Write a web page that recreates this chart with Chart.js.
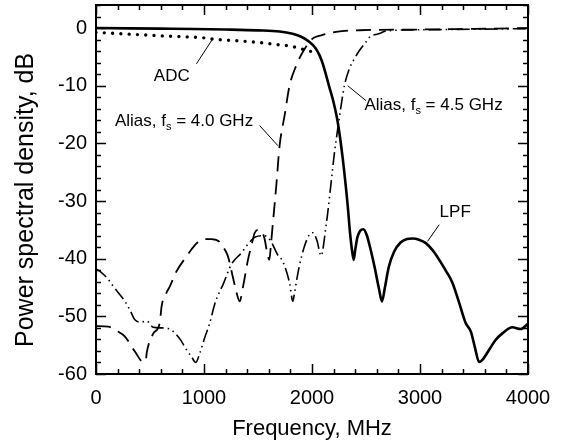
<!DOCTYPE html>
<html>
<head>
<meta charset="utf-8">
<script src="https://cdn.jsdelivr.net/npm/chart.js@4.4.0/dist/chart.umd.min.js"></script>
<style>
  html, body { margin: 0; padding: 0; background: #fff; }
  canvas { display: block; }
</style>
</head>
<body>
<canvas id="psdChart" width="563" height="442" style="width:563px;height:442px"></canvas>
<script>
// frequency in MHz, level in dB
const lpfFreq = [0, 300, 600, 900, 1200, 1500, 1700, 1820, 1900, 1977, 2030, 2069, 2100, 2131, 2160, 2192, 2238, 2285, 2331, 2352, 2370, 2386, 2400, 2420, 2445, 2476, 2505, 2540, 2580, 2620, 2648, 2675, 2710, 2760, 2820, 2880, 2931, 2990, 3054, 3120, 3178, 3240, 3301, 3360, 3424, 3470, 3510, 3547, 3580, 3640, 3700, 3760, 3855, 3932, 4000];
const lpfDb = [0, -0.05, -0.1, -0.15, -0.25, -0.4, -0.6, -1.0, -1.5, -2.4, -3.4, -4.7, -6.2, -8.2, -10.2, -12.3, -16.3, -22.7, -30.9, -35.5, -38.5, -40.2, -38.5, -36.3, -35.2, -34.9, -35.8, -38.2, -41.5, -45.2, -47.4, -45, -41.5, -38.8, -37.2, -36.6, -36.5, -36.7, -37.3, -38.6, -40.2, -42.1, -44.2, -47.5, -51.2, -52.6, -55.5, -57.9, -57.5, -55.8, -54.1, -53.0, -51.9, -52.2, -51.3];

const adcFreq = [0, 200, 400, 600, 800, 1000, 1100, 1300, 1515, 1669, 1792, 1900, 2008];
const adcDb = [-0.75, -0.95, -1.15, -1.35, -1.5, -1.7, -1.95, -2.2, -2.5, -2.85, -3.1, -3.6, -4.15];

const alias40Freq = [0, 114, 200, 268, 360, 437, 460, 470, 530, 591, 607, 650, 684, 745, 838, 884, 940, 1007, 1070, 1145, 1192, 1222, 1265, 1300, 1330, 1360, 1407, 1438, 1470, 1500, 1530, 1560, 1590, 1605, 1620, 1638, 1669, 1700, 1746, 1792, 1854, 1915, 2008, 2085, 2223, 2439, 3000, 3500, 4000];
const alias40Db = [-51.7, -51.8, -52.6, -53.5, -56.1, -57.9, -57.8, -56.3, -53, -51.1, -48.3, -46, -44.8, -42.2, -39.6, -38.4, -37.2, -36.6, -36.6, -37.1, -38.4, -39.6, -43.0, -45.8, -47.4, -45, -40.2, -37.8, -35.5, -35, -35.2, -36.5, -39.5, -40.2, -37.5, -33.8, -27.4, -20.4, -15.2, -10.0, -6.5, -4.15, -1.8, -1.25, -0.66, -0.38, -0.25, -0.15, 0];

const alias45Freq = [0, 37, 114, 160, 268, 314, 360, 420, 470, 530, 600, 668, 714, 780, 838, 884, 924, 961, 1010, 1053, 1099, 1145, 1176, 1253, 1346, 1407, 1480, 1560, 1620, 1681, 1730, 1792, 1823, 1838, 1880, 1931, 1977, 2010, 2045, 2085, 2100, 2125, 2146, 2177, 2208, 2238, 2270, 2300, 2346, 2393, 2439, 2500, 2531, 2624, 2685, 3000, 3500, 4000];
const alias45Db = [-41.8, -42.2, -43.6, -44.8, -47.4, -48.9, -50.6, -51.0, -50.8, -51.9, -52, -52.1, -52.6, -54, -55.8, -57.0, -58.0, -56.4, -53.5, -51.2, -47.9, -45.7, -44.5, -41.0, -39.0, -37.5, -36.2, -36.0, -37.0, -39.3, -40.5, -44.2, -47.4, -45.9, -41.5, -37.8, -35.8, -35.5, -36.8, -39.5, -38.5, -35, -32, -26.8, -21.6, -17.5, -13.4, -10.0, -7.05, -5.3, -3.9, -2.4, -1.6, -0.96, -0.5, -0.3, -0.2, -0.1];

const xTickValues = [0, 1000, 2000, 3000, 4000];
const yTickValues = [-60, -50, -40, -30, -20, -10, 0];

const FONT = "'Liberation Sans', Arial, sans-serif";

function toPoints(xs, ys) {
  return xs.map((x, i) => ({ x: x, y: ys[i] }));
}

// callouts: text anchor and leader line, in data units
const notes = [
  { text: 'ADC', x: 702, y: -8.3, align: 'center', line: [930, -6.2, 1083, -1.8] },
  { text: 'Alias, f', sub: 's', rest: ' = 4.0 GHz', x: 175, y: -16.1, align: 'left', line: [1515, -16.9, 1684, -20.4] },
  { text: 'Alias, f', sub: 's', rest: ' = 4.5 GHz', x: 2485, y: -13.4, align: 'left', line: [2331, -10.0, 2500, -12.6] },
  { text: 'LPF', x: 3326, y: -32, align: 'center', line: [3178, -34.1, 3070, -37.0] }
];

const framePlugin = {
  id: 'frame',
  afterDatasetsDraw(chart) {
    const { ctx, chartArea: a, scales: { x, y } } = chart;
    ctx.save();
    ctx.strokeStyle = '#000';
    ctx.lineWidth = 1.5;
    ctx.beginPath();
    for (let v = 0; v <= 4000; v += 200) {
      const px = Math.round(x.getPixelForValue(v)) + 0.5;
      const len = v % 1000 === 0 ? 10 : 5;
      ctx.moveTo(px, a.bottom); ctx.lineTo(px, a.bottom - len);
      ctx.moveTo(px, a.top); ctx.lineTo(px, a.top + len);
    }
    for (let v = -60; v <= 4; v += 2) {
      const py = Math.round(y.getPixelForValue(v)) + 0.5;
      const len = v % 10 === 0 ? 10 : 5;
      ctx.moveTo(a.left, py); ctx.lineTo(a.left + len, py);
      ctx.moveTo(a.right, py); ctx.lineTo(a.right - len, py);
    }
    ctx.stroke();
    ctx.lineWidth = 2;
    ctx.strokeRect(a.left, a.top, a.right - a.left, a.bottom - a.top);
    ctx.restore();
  }
};

const notePlugin = {
  id: 'notes',
  afterDraw(chart) {
    const { ctx, scales: { x, y } } = chart;
    ctx.save();
    ctx.fillStyle = '#000';
    ctx.strokeStyle = '#000';
    ctx.lineWidth = 1;
    ctx.textBaseline = 'middle';
    notes.forEach(n => {
      const l = n.line;
      ctx.beginPath();
      ctx.moveTo(x.getPixelForValue(l[0]), y.getPixelForValue(l[1]));
      ctx.lineTo(x.getPixelForValue(l[2]), y.getPixelForValue(l[3]));
      ctx.stroke();

      const px = x.getPixelForValue(n.x);
      const py = y.getPixelForValue(n.y);
      ctx.font = '17px ' + FONT;
      if (!n.sub) {
        ctx.textAlign = n.align;
        ctx.fillText(n.text, px, py);
        return;
      }
      ctx.textAlign = 'left';
      let cx = px;
      ctx.fillText(n.text, cx, py);
      cx += ctx.measureText(n.text).width;
      ctx.font = '11px ' + FONT;
      ctx.fillText(n.sub, cx, py + 6);
      cx += ctx.measureText(n.sub).width;
      ctx.font = '17px ' + FONT;
      ctx.fillText(n.rest, cx, py);
    });
    ctx.restore();
  }
};

const ctx = document.getElementById('psdChart').getContext('2d');
const psdChart = new Chart(ctx, {
  type: 'line',
  data: {
    datasets: [
      {
        label: 'LPF',
        data: toPoints(lpfFreq, lpfDb),
        borderColor: '#000',
        borderWidth: 2.6,
        pointRadius: 0,
        cubicInterpolationMode: 'monotone'
      },
      {
        label: 'ADC',
        data: toPoints(adcFreq, adcDb),
        borderColor: '#000',
        borderWidth: 3.4,
        borderDash: [0, 8.3],
        borderCapStyle: 'round',
        pointRadius: 0,
        cubicInterpolationMode: 'monotone'
      },
      {
        label: 'Alias, fs = 4.0 GHz',
        data: toPoints(alias40Freq, alias40Db),
        borderColor: '#000',
        borderWidth: 1.8,
        borderDash: [15, 8],
        pointRadius: 0,
        cubicInterpolationMode: 'monotone'
      },
      {
        label: 'Alias, fs = 4.5 GHz',
        data: toPoints(alias45Freq, alias45Db),
        borderColor: '#000',
        borderWidth: 1.6,
        borderDash: [13, 4, 1.5, 4, 1.5, 4],
        pointRadius: 0,
        cubicInterpolationMode: 'monotone'
      }
    ]
  },
  options: {
    responsive: false,
    animation: false,
    devicePixelRatio: 1,
    layout: { padding: { top: 5, right: 35, left: 0, bottom: 0 } },
    plugins: {
      legend: { display: false },
      tooltip: { enabled: false }
    },
    scales: {
      x: {
        type: 'linear',
        min: 0,
        max: 4000,
        afterBuildTicks: s => { s.ticks = xTickValues.map(v => ({ value: v })); },
        afterFit: s => { s.height = 68; s.paddingLeft = 0; s.paddingRight = 0; },
        ticks: { color: '#000', font: { family: FONT, size: 20 }, padding: 12, maxRotation: 0, callback: v => String(v) },
        grid: { display: false, drawTicks: false },
        border: { display: false },
        title: { display: true, text: 'Frequency, MHz', color: '#000', font: { family: FONT, size: 22 }, padding: { top: 4, bottom: 0 } }
      },
      y: {
        type: 'linear',
        min: -60,
        max: 4,
        afterBuildTicks: s => { s.ticks = yTickValues.map(v => ({ value: v })); },
        afterFit: s => { s.width = 96; s.paddingTop = 0; s.paddingBottom = 0; },
        ticks: { color: '#000', font: { family: FONT, size: 20 }, padding: 9, callback: v => String(v) },
        grid: { display: false, drawTicks: false },
        border: { display: false },
        // trailing spaces nudge the title a little below the plot centre, as in the original
        title: { display: true, text: 'Power spectral density, dB   ', color: '#000', font: { family: FONT, size: 25 }, padding: { top: 11, bottom: 0 } }
      }
    }
  },
  plugins: [framePlugin, notePlugin]
});
</script>
</body>
</html>
